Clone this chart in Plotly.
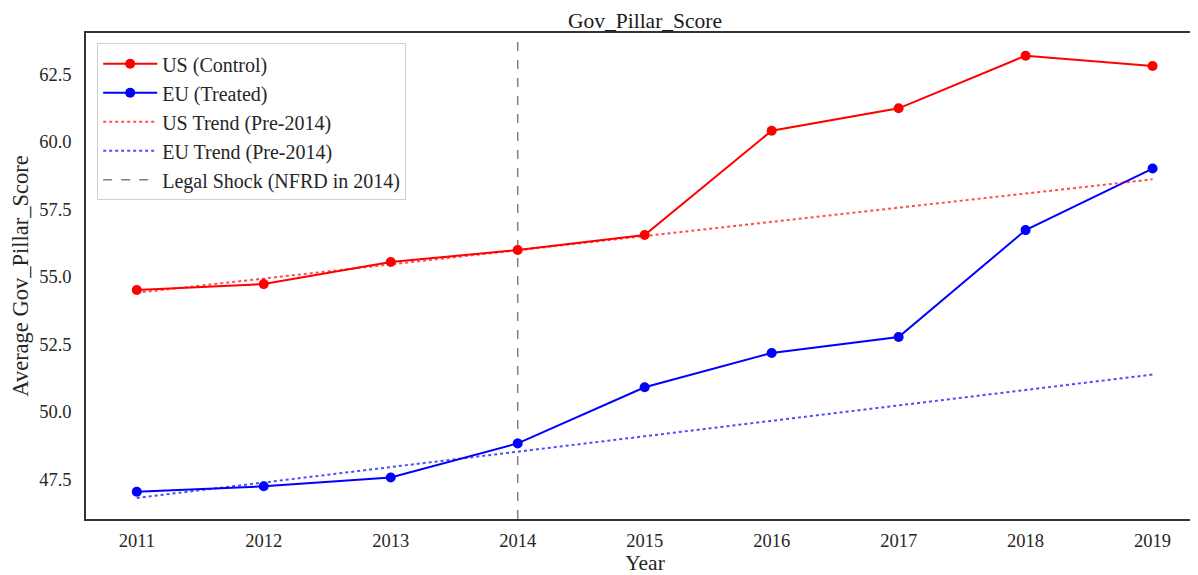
import plotly.graph_objects as go

years = [2011, 2012, 2013, 2014, 2015, 2016, 2017, 2018, 2019]
us_values = [54.50, 54.72, 55.54, 55.98, 56.54, 60.40, 61.23, 63.18, 62.80]
eu_values = [47.03, 47.23, 47.56, 48.82, 50.90, 52.17, 52.76, 56.72, 59.00]
trend_years = [2011, 2019]
us_trend = [54.40, 58.60]
eu_trend = [46.80, 51.37]
shock_year = 2014
tick_years = years

FONT = "Liberation Serif, Times New Roman, serif"
TXT = "#262626"

fig = go.Figure()
fig.add_trace(go.Scatter(x=years, y=us_values, mode="lines+markers", name="US (Control)",
                         line=dict(color="red", width=2), marker=dict(color="red", size=10)))
fig.add_trace(go.Scatter(x=years, y=eu_values, mode="lines+markers", name="EU (Treated)",
                         line=dict(color="blue", width=2), marker=dict(color="blue", size=10)))
fig.add_trace(go.Scatter(x=trend_years, y=us_trend, mode="lines", name="US Trend (Pre-2014)",
                         line=dict(color="rgba(255,0,0,0.7)", width=2, dash="dot")))
fig.add_trace(go.Scatter(x=trend_years, y=eu_trend, mode="lines", name="EU Trend (Pre-2014)",
                         line=dict(color="rgba(0,0,255,0.7)", width=2, dash="dot")))
fig.add_trace(go.Scatter(x=[None], y=[None], mode="lines", name="Legal Shock (NFRD in 2014)",
                         line=dict(color="grey", width=1.5, dash="dash")))
fig.add_shape(type="line", x0=shock_year, x1=shock_year, y0=0, y1=1, xref="x", yref="y domain",
              line=dict(color="grey", width=1.5, dash="dash"), layer="below")

fig.update_layout(
    width=1198, height=575,
    margin=dict(l=78, r=0, t=25, b=64),
    paper_bgcolor="white", plot_bgcolor="white",
    font=dict(family=FONT, color=TXT, size=18),
    title=dict(text="Gov_Pillar_Score", x=0.5, xanchor="center", xref="paper",
               y=1 - 12 / 575, yanchor="middle", font=dict(size=21.5, color="#1a1a1a")),
    showlegend=True,
    legend=dict(x=0.01, y=0.979, xanchor="left", yanchor="top",
                bgcolor="rgba(255,255,255,0.8)", bordercolor="#d0d0d0", borderwidth=1,
                font=dict(size=20, color=TXT), itemwidth=54),
)
fig.update_xaxes(range=[2010.6, 2019.405], tickmode="array", tickvals=tick_years,
                 ticktext=[str(y) for y in tick_years], showgrid=False, zeroline=False,
                 showline=True, mirror=True, linecolor="#333333", linewidth=1.6,
                 ticks="", tickfont=dict(size=18.5), ticklabelstandoff=4,
                 title=dict(text="Year", font=dict(size=21.5), standoff=4))
fig.update_yaxes(range=[46.02, 64.02], tick0=47.5, dtick=2.5, tickformat=".1f",
                 showgrid=False, zeroline=False,
                 showline=True, mirror=True, linecolor="#333333", linewidth=1.6,
                 ticks="", tickfont=dict(size=18.5), ticklabelstandoff=9,
                 title=dict(text="Average Gov_Pillar_Score", font=dict(size=22.5), standoff=12))

fig.write_html("out.html")
